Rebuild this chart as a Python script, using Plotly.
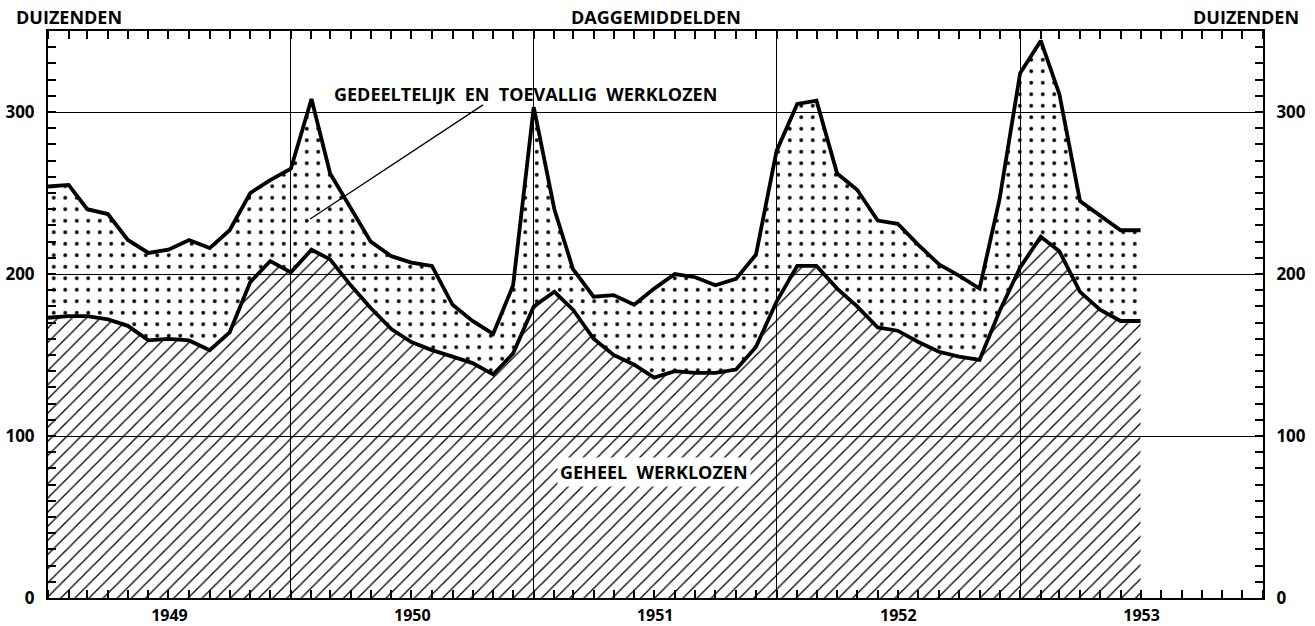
import plotly.graph_objects as go
import pandas as pd

# ---- data (thousands, monthly daily averages) ----
start_month = "1949-01-01"
n_months = 55
geheel_werklozen = [173, 174, 174, 172, 168, 159, 160, 159, 153, 164, 195, 208,
                    201, 215, 209, 193, 179, 166, 158, 153, 149, 145, 138, 151,
                    180, 189, 178, 160, 150, 144, 136, 140, 139, 139, 141, 155,
                    183, 205, 205, 191, 180, 167, 165, 158, 152, 149, 147, 177,
                    204, 223, 214, 189, 178, 171, 171]
totaal_werklozen = [254, 255, 240, 237, 221, 213, 215, 221, 216, 227, 250, 258,
                    265, 308, 262, 241, 220, 211, 207, 205, 181, 171, 163, 193,
                    303, 240, 203, 186, 187, 181, 191, 200, 198, 193, 197, 212,
                    276, 305, 307, 262, 252, 233, 231, 218, 206, 199, 191, 246,
                    324, 344, 311, 245, 236, 227, 227]
y_ticks = [0, 100, 200, 300]
x_range = ["1949-01-01", "1954-01-01"]
y_range = [0, 350]

months = pd.date_range(start_month, periods=n_months, freq="MS")

FONT = "Open Sans"
BLACK = "black"

fig = go.Figure()

fig.add_trace(go.Scatter(
    x=months, y=geheel_werklozen, mode="lines",
    line=dict(color=BLACK, width=3.8),
    fill="tozeroy", fillcolor=BLACK,
    fillpattern=dict(shape="/", fgcolor=BLACK, bgcolor="rgba(0,0,0,0)",
                     fgopacity=1, size=10, solidity=0.13),
    showlegend=False, hoverinfo="skip"))

fig.add_trace(go.Scatter(
    x=months, y=totaal_werklozen, mode="lines",
    line=dict(color=BLACK, width=3.8),
    fill="tonexty", fillcolor=BLACK,
    fillpattern=dict(shape=".", fgcolor=BLACK, bgcolor="rgba(0,0,0,0)",
                     fgopacity=1, size=11.5, solidity=0.09),
    showlegend=False, hoverinfo="skip"))

# invisible trace to activate the top and right axes
fig.add_trace(go.Scatter(
    x=months, y=totaal_werklozen, xaxis="x2", yaxis="y2", mode="lines",
    line=dict(width=0, color="rgba(0,0,0,0)"),
    showlegend=False, hoverinfo="skip"))

xtickfont = dict(family=FONT, size=16, color=BLACK, weight=700)
ytickfont = dict(family=FONT, size=17, color=BLACK, weight=700)

xcommon = dict(
    type="date", range=x_range, dtick="M12", tick0="1949-01-01",
    tickformat="%Y", ticklabelmode="period",
    ticks="inside", ticklen=8, tickwidth=1.5, tickcolor=BLACK,
    showline=True, linecolor=BLACK, linewidth=2,
    minor=dict(dtick="M1", ticks="inside", ticklen=8, tickwidth=1.5,
               tickcolor=BLACK, showgrid=False),
    zeroline=False, automargin=False)
ycommon = dict(
    range=y_range, tickvals=y_ticks,
    ticks="inside", ticklen=8, tickwidth=1.5, tickcolor=BLACK,
    showline=True, linecolor=BLACK, linewidth=2,
    minor=dict(dtick=10, ticks="inside", ticklen=8, tickwidth=1.5,
               tickcolor=BLACK, showgrid=False),
    tickfont=ytickfont, zeroline=False, ticklabelstandoff=8,
    automargin=False)

fig.update_layout(
    width=1315, height=626,
    margin=dict(l=48, r=52, t=31, b=28, autoexpand=False),
    paper_bgcolor="white", plot_bgcolor="white",
    xaxis=dict(**xcommon, showgrid=True, gridcolor=BLACK, gridwidth=1.4,
               tickfont=xtickfont, ticklabelstandoff=2),
    xaxis2=dict(**xcommon, overlaying="x", side="top", anchor="y",
                showgrid=False, showticklabels=False),
    yaxis=dict(**ycommon, showgrid=True, gridcolor=BLACK, gridwidth=1.4),
    yaxis2=dict(**ycommon, overlaying="y", side="right", anchor="x",
                showgrid=False),
)

labfont = dict(family=FONT, size=18, color=BLACK, weight=700)
sp = "\u00a0\u00a0"

fig.add_annotation(text="DUIZENDEN", xref="paper", yref="paper",
                   x=-0.028, y=1.025, xanchor="left", yanchor="middle",
                   showarrow=False, font=labfont)
fig.add_annotation(text="DAGGEMIDDELDEN", xref="paper", yref="paper",
                   x=0.5, y=1.025, xanchor="center", yanchor="middle",
                   showarrow=False, font=labfont)
fig.add_annotation(text="DUIZENDEN", xref="paper", yref="paper",
                   x=1.031, y=1.025, xanchor="right", yanchor="middle",
                   showarrow=False, font=labfont)

fig.add_annotation(text=f"GEDEELTELIJK{sp}EN{sp}TOEVALLIG{sp}WERKLOZEN",
                   x="1950-12-19", y=311, xref="x", yref="y",
                   showarrow=False, font=labfont)
fig.add_annotation(text="", x="1950-01-30", y=234, xref="x", yref="y",
                   ax="1950-10-19", ay=305, axref="x", ayref="y",
                   showarrow=True, arrowhead=0, arrowwidth=1.3,
                   arrowcolor=BLACK)
fig.add_annotation(text=f"GEHEEL{sp}WERKLOZEN",
                   x="1951-07-01", y=77.5, xref="x", yref="y",
                   showarrow=False, font=labfont, bgcolor="white",
                   borderpad=2)

fig.write_html("out.html",
               config={"displayModeBar": False},
               post_script="document.body.style.margin='0px';"
                           "document.body.style.overflow='hidden';")
